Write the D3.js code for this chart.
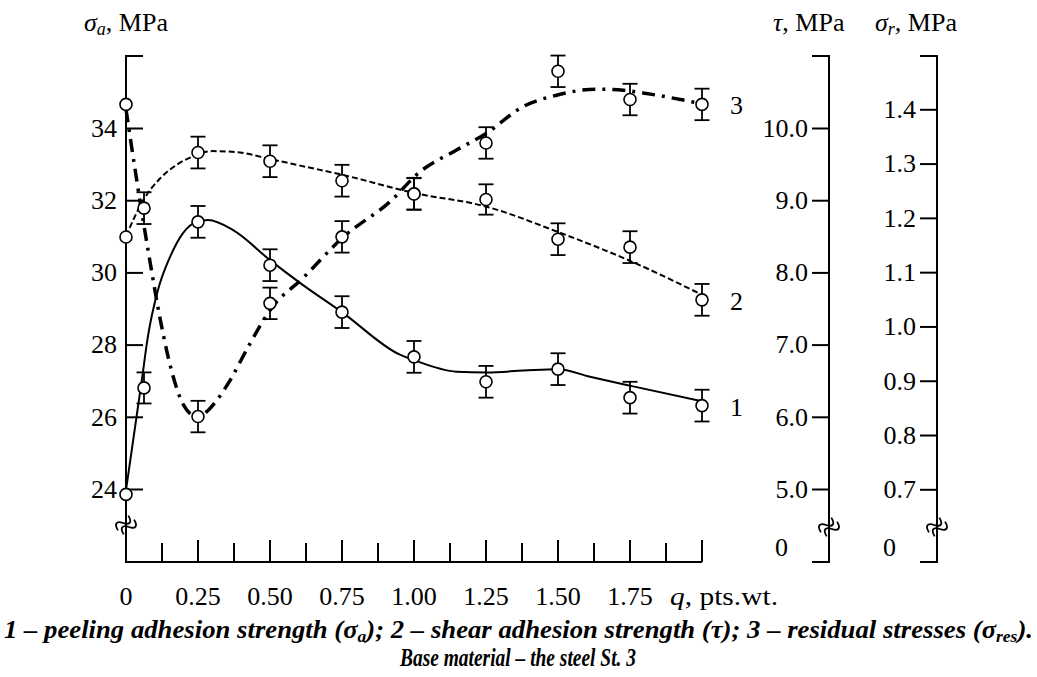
<!DOCTYPE html>
<html>
<head>
<meta charset="utf-8">
<script src="https://cdn.jsdelivr.net/npm/d3@7"></script>
<style>
  body { margin: 0; background: #fff; }
  text { font-family: "Liberation Serif", "Times New Roman", serif; fill: #000; }
</style>
</head>
<body>
<div id="container"></div>
<script>
// measured points (q in pts.wt.)
var qPts = [0, 0.0625, 0.25, 0.5, 0.75, 1.0, 1.25, 1.5, 1.75, 2.0];
var peelVals = [23.85, 26.8, 31.4, 30.2, 28.9, 27.66, 26.97, 27.32, 26.53, 26.31];
var peelErr = [0, 0.43, 0.44, 0.44, 0.44, 0.44, 0.44, 0.44, 0.44, 0.44];
var shearVals = [8.49, 8.89, 9.66, 9.54, 9.27, 9.09, 9.01, 8.46, 8.35, 7.62];
var shearErr = [0, 0.22, 0.22, 0.22, 0.22, 0.22, 0.21, 0.22, 0.22, 0.22];
var qRes = [0, 0.25, 0.5, 0.75, 1.0, 1.25, 1.5, 1.75, 2.0];
var resVals = [1.409, 0.834, 1.0425, 1.165, 1.244, 1.338, 1.470, 1.418, 1.409];
var resErr = [0, 0.029, 0.029, 0.029, 0.029, 0.029, 0.029, 0.029, 0.029];

// fitted curves
var fitPeelQ = [0, 0.055, 0.076, 0.111, 0.153, 0.198, 0.245, 0.285, 0.372, 0.5, 0.604, 0.753, 0.951, 1.0, 1.148, 1.253, 1.38, 1.5, 1.611, 1.757, 2.0];
var fitPeelV = [23.97, 27.02, 28.22, 29.51, 30.43, 31.09, 31.40, 31.45, 31.17, 30.34, 29.71, 28.88, 27.72, 27.57, 27.25, 27.23, 27.28, 27.32, 27.11, 26.85, 26.43];
var fitShearQ = [0, 0.06, 0.118, 0.176, 0.228, 0.302, 0.396, 0.5, 0.627, 0.753, 1.0, 1.252, 1.5, 1.756, 2.0];
var fitShearV = [8.5, 9.0, 9.30, 9.49, 9.60, 9.68, 9.66, 9.57, 9.46, 9.35, 9.10, 8.91, 8.56, 8.15, 7.69];
var fitResQ = [0, 0.04, 0.08, 0.12, 0.16, 0.2, 0.245, 0.28, 0.315, 0.355, 0.431, 0.5, 0.616, 0.755, 0.917, 1.021, 1.148, 1.252, 1.379, 1.495, 1.634, 1.727, 1.796, 1.935, 2.0];
var fitResV = [1.40, 1.26, 1.13, 1.01, 0.915, 0.855, 0.834, 0.843, 0.864, 0.895, 0.969, 1.03, 1.09, 1.165, 1.230, 1.285, 1.325, 1.356, 1.405, 1.426, 1.437, 1.435, 1.430, 1.417, 1.410];

// ticks
var xTicks = d3.range(0, 2.0001, 0.125);
var xTickLabels = ["0", "0.25", "0.50", "0.75", "1.00", "1.25", "1.50", "1.75"];
var peelTicks = [24, 26, 28, 30, 32, 34];
var shearTicks = [5, 6, 7, 8, 9, 10];
var resTicks = [0.7, 0.8, 0.9, 1.0, 1.1, 1.2, 1.3, 1.4];

var width = 1037, height = 677;
var frameTop = 56, frameBottom = 562;
var fs = "26px";

var svg = d3.select("div#container").append("svg")
  .attr("width", width)
  .attr("height", height);

var x = d3.scaleLinear().domain([0, 2]).range([126, 702]);
var yA = d3.scaleLinear().domain([24, 34]).range([489, 128]);
var yT = d3.scaleLinear().domain([5, 10]).range([489, 128]);
var yR = d3.scaleLinear().domain([0.7, 1.4]).range([489.3, 109.3]);

var tauX = 829, resX = 937;

// frame lines
svg.append("path")
  .attr("d", "M" + (x(0) + 17) + "," + frameTop + "H" + x(0) + "V" + frameBottom + "H" + x(2))
  .attr("fill", "none").attr("stroke", "#000").attr("stroke-width", 2);
[tauX, resX].forEach(function(ax) {
  svg.append("path")
    .attr("d", "M" + (ax - 17) + "," + frameTop + "H" + ax + "V" + frameBottom + "H" + (ax - 17))
    .attr("fill", "none").attr("stroke", "#000").attr("stroke-width", 2);
});

// left axis
var gA = svg.append("g").attr("transform", "translate(" + x(0) + ",0)")
  .call(d3.axisLeft(yA).tickValues(peelTicks).tickSize(-17).tickPadding(9));
// tau axis
var gT = svg.append("g").attr("transform", "translate(" + tauX + ",0)")
  .call(d3.axisLeft(yT).tickValues(shearTicks).tickSize(17).tickPadding(4).tickFormat(d3.format(".1f")));
// residual axis
var gR = svg.append("g").attr("transform", "translate(" + resX + ",0)")
  .call(d3.axisLeft(yR).tickValues(resTicks).tickSize(17).tickPadding(4).tickFormat(d3.format(".1f")));

[gA, gT, gR].forEach(function(g) {
  g.select(".domain").remove();
  g.selectAll(".tick line").attr("stroke", "#000").attr("stroke-width", 2);
  g.selectAll(".tick text").style("font-size", fs).style("font-family", "Liberation Serif");
});

// zero labels under the breaks
[tauX, resX].forEach(function(ax) {
  svg.append("text").attr("x", ax - 41).attr("y", 556)
    .attr("text-anchor", "end").style("font-size", fs).text("0");
});

// axis break marks
function breakMark(cx, cy) {
  var g = svg.append("g").attr("transform", "translate(" + cx + "," + cy + ") rotate(-55)");
  [-3.5, 3.5].forEach(function(o) {
    g.append("path")
      .attr("d", "M-9," + o + " C-6," + (o - 7) + " -2," + (o - 7) + " 0," + o + " S6," + (o + 7) + " 9," + o)
      .attr("fill", "none").attr("stroke", "#000").attr("stroke-width", 1.8);
  });
}
breakMark(x(0), 525);
breakMark(tauX, 527);
breakMark(resX, 527);

// x ticks pointing up
svg.selectAll("line.xtick")
  .data(xTicks)
  .enter().append("line")
  .attr("class", "xtick")
  .attr("x1", function(d) { return x(d); })
  .attr("x2", function(d) { return x(d); })
  .attr("y1", frameBottom)
  .attr("y2", function(d, i) { return i % 2 === 0 ? frameBottom - 22 : frameBottom - 19; })
  .attr("stroke", "#000").attr("stroke-width", 2);

svg.selectAll("text.xlab")
  .data(xTickLabels)
  .enter().append("text")
  .attr("class", "xlab")
  .attr("x", function(d, i) { return x(i * 0.25); })
  .attr("y", 605)
  .attr("text-anchor", "middle")
  .style("font-size", fs)
  .text(function(d) { return d; });

var qLab = svg.append("text").attr("x", 670).attr("y", 605).style("font-size", fs)
  .attr("textLength", 108).attr("lengthAdjust", "spacingAndGlyphs");
qLab.append("tspan").style("font-style", "italic").text("q");
qLab.append("tspan").text(", pts.wt.");

// axis titles
var tA = svg.append("text").attr("x", 84).attr("y", 31).style("font-size", fs);
tA.append("tspan").style("font-style", "italic").text("σ");
tA.append("tspan").style("font-style", "italic").style("font-size", "18px").attr("dy", 4).text("a");
tA.append("tspan").attr("dy", -4).text(", MPa");

var tT = svg.append("text").attr("x", 773).attr("y", 31).style("font-size", fs);
tT.append("tspan").style("font-style", "italic").text("τ");
tT.append("tspan").text(", MPa");

var tR = svg.append("text").attr("x", 875).attr("y", 31).style("font-size", fs);
tR.append("tspan").style("font-style", "italic").text("σ");
tR.append("tspan").style("font-style", "italic").style("font-size", "18px").attr("dy", 4).text("r");
tR.append("tspan").style("font-style", "italic").attr("dy", -4).text(",");
tR.append("tspan").text(" MPa");

// curves
function drawFit(qs, vs, yScale, dash, sw) {
  var pts = qs.map(function(q, i) { return [x(q), yScale(vs[i])]; });
  svg.append("path")
    .datum(pts)
    .attr("d", d3.line().curve(d3.curveMonotoneX))
    .attr("fill", "none")
    .attr("stroke", "#000")
    .attr("stroke-width", sw)
    .attr("stroke-dasharray", dash);
}
drawFit(fitPeelQ, fitPeelV, yA, null, 2);
drawFit(fitShearQ, fitShearV, yT, "6,3", 2);
drawFit(fitResQ, fitResV, yR, "13,7,3,7", 3.5);

// points with error bars
function drawPoints(qs, vs, es, yScale) {
  var g = svg.append("g");
  qs.forEach(function(q, i) {
    var cx = x(q);
    if (es[i] > 0) {
      var y1 = yScale(vs[i] + es[i]), y2 = yScale(vs[i] - es[i]);
      g.append("line").attr("x1", cx).attr("x2", cx).attr("y1", y1).attr("y2", y2)
        .attr("stroke", "#000").attr("stroke-width", 1.8);
      [y1, y2].forEach(function(yy) {
        g.append("line").attr("x1", cx - 7.5).attr("x2", cx + 7.5).attr("y1", yy).attr("y2", yy)
          .attr("stroke", "#000").attr("stroke-width", 1.8);
      });
    }
    g.append("circle").attr("cx", cx).attr("cy", yScale(vs[i])).attr("r", 6)
      .attr("fill", "#fff").attr("stroke", "#000").attr("stroke-width", 1.6);
  });
}
drawPoints(qPts, peelVals, peelErr, yA);
drawPoints(qPts, shearVals, shearErr, yT);
drawPoints(qRes, resVals, resErr, yR);

// curve numbers
var curveLabels = ["1", "2", "3"];
var curveLabelY = [yA(peelVals[9]), yT(shearVals[9]), yR(resVals[8])];
svg.selectAll("text.clab")
  .data(curveLabels)
  .enter().append("text")
  .attr("class", "clab")
  .attr("x", 730)
  .attr("y", function(d, i) { return curveLabelY[i] + 10; })
  .style("font-size", fs)
  .text(function(d) { return d; });

// caption
var c1 = svg.append("text").attr("x", 4).attr("y", 638)
  .attr("textLength", 1029).attr("lengthAdjust", "spacingAndGlyphs")
  .style("font-size", "26px").style("font-weight", "bold").style("font-style", "italic");
c1.append("tspan").text("1 – peeling adhesion strength (σ");
c1.append("tspan").attr("dy", 4).style("font-size", "17px").text("a");
c1.append("tspan").attr("dy", -4).text("); 2 – shear adhesion strength (τ); 3 – residual stresses (σ");
c1.append("tspan").attr("dy", 4).style("font-size", "17px").text("res");
c1.append("tspan").attr("dy", -4).text(").");

svg.append("text").attr("x", 518).attr("y", 666)
  .attr("text-anchor", "middle")
  .attr("textLength", 236).attr("lengthAdjust", "spacingAndGlyphs")
  .style("font-size", "25px").style("font-weight", "bold").style("font-style", "italic")
  .text("Base material – the steel St. 3");
</script>
</body>
</html>
